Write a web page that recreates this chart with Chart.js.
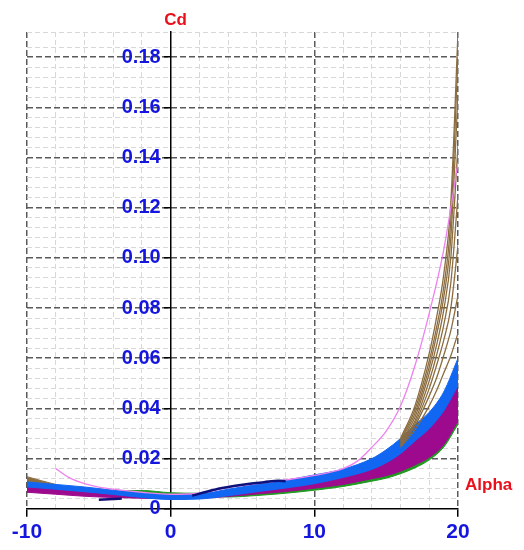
<!DOCTYPE html>
<html>
<head>
<meta charset="utf-8">
<title>Cd - Alpha</title>
<script src="https://cdn.jsdelivr.net/npm/chart.js@4.4.1/dist/chart.umd.min.js"></script>
<style>
  html, body { margin: 0; padding: 0; background: #fff; }
</style>
</head>
<body>
<canvas id="chart" width="524" height="550"></canvas>
<script>
// Etiquetas de los ejes
const X_LABELS = [-10, 0, 10, 20];
const Y_LABELS = [0, 0.02, 0.04, 0.06, 0.08, 0.10, 0.12, 0.14, 0.16, 0.18];

// Malla común de alpha para las bandas
const ALPHA = [-10, -8, -6, -4, -2, 0, 2, 4, 6, 8, 10, 12, 14, 15, 16, 17, 18, 19, 20];
const BLUE_HI  = [0.0107, 0.0097, 0.0087, 0.0074, 0.0063, 0.0057, 0.0059, 0.0078, 0.0097, 0.0114, 0.0135, 0.0158, 0.0200, 0.0235, 0.0280, 0.0335, 0.0385, 0.0465, 0.0600];
const BLUE_LO  = [0.0087, 0.0078, 0.0068, 0.0057, 0.0045, 0.0037, 0.0039, 0.0052, 0.0068, 0.0083, 0.0100, 0.0125, 0.0157, 0.0183, 0.0220, 0.0270, 0.0320, 0.0390, 0.0490];
const MAG_HI   = [0.0095, 0.0085, 0.0075, 0.0065, 0.0056, 0.0050, 0.0053, 0.0063, 0.0076, 0.0090, 0.0106, 0.0128, 0.0160, 0.0185, 0.0220, 0.0272, 0.0325, 0.0395, 0.0500];
const MAG_LO   = [0.0066, 0.0058, 0.0050, 0.0045, 0.0042, 0.0040, 0.0042, 0.0049, 0.0059, 0.0069, 0.0082, 0.0097, 0.0120, 0.0132, 0.0150, 0.0175, 0.0205, 0.0255, 0.0350];
const GREEN_HI = [0.0080, 0.0070, 0.0062, 0.0070, 0.0073, 0.0064, 0.0062, 0.0064, 0.0066, 0.0075, 0.0088, 0.0100, 0.0122, 0.0135, 0.0155, 0.0180, 0.0210, 0.0260, 0.0355];
const GREEN_LO = [0.0070, 0.0062, 0.0055, 0.0055, 0.0060, 0.0052, 0.0050, 0.0047, 0.0053, 0.0062, 0.0074, 0.0089, 0.0110, 0.0122, 0.0140, 0.0163, 0.0195, 0.0245, 0.0337];

// Cuña marrón en el borde izquierdo
const BROWN_L_X  = [-10, -9, -8];
const BROWN_L_HI = [0.0128, 0.0112, 0.0097];
const BROWN_L_LO = [0.0100, 0.0092, 0.0088];

// Curvas marrones que se disparan al final
const BROWN_X = [16, 17, 18, 18.5, 19, 19.5, 20];
const BROWN_1 = [0.0280, 0.0410, 0.0620, 0.0760, 0.0930, 0.1220, 0.1900];
const BROWN_2 = [0.0275, 0.0395, 0.0590, 0.0720, 0.0880, 0.1150, 0.1800];
const BROWN_3 = [0.0270, 0.0380, 0.0565, 0.0690, 0.0840, 0.1080, 0.1650];
const BROWN_4 = [0.0265, 0.0365, 0.0540, 0.0650, 0.0790, 0.1000, 0.1450];
const BROWN_5 = [0.0260, 0.0350, 0.0510, 0.0610, 0.0730, 0.0900, 0.1250];
const BROWN_6 = [0.0255, 0.0340, 0.0480, 0.0570, 0.0670, 0.0800, 0.1050];
const BROWN_7 = [0.0250, 0.0330, 0.0450, 0.0520, 0.0610, 0.0710, 0.0850];
const BROWN_8 = [0.0245, 0.0315, 0.0410, 0.0470, 0.0540, 0.0610, 0.0700];

// Curva rosa
const PINK_X  = [-8, -7, -6, -5, -4, -2, 0, 2, 4, 6, 8, 10, 12, 13, 14, 15, 16, 17, 18, 19, 20];
const PINK_CD = [0.0160, 0.0122, 0.0100, 0.0086, 0.0078, 0.0066, 0.0058, 0.0062, 0.0085, 0.0100, 0.0115, 0.0133, 0.0160, 0.0190, 0.0245, 0.0310, 0.0410, 0.0570, 0.0780, 0.1030, 0.1380];

// Curva azul oscuro (dos tramos)
const NAVY_X  = [-5, -4, -3.4, -3, 1.5, 2.5, 3.5, 4.5, 5.5, 6.5, 7.5, 8];
const NAVY_CD = [0.0036, 0.0039, 0.0041, null, 0.0052, 0.0068, 0.0082, 0.0092, 0.0100, 0.0106, 0.0112, 0.0110];

const FONT = '"Liberation Sans", Arial, sans-serif';
const BLUE = '#1267f2', MAGENTA = '#9e0a8e', GREEN = '#1f9a1f', BROWN = '#8c6d3f', PINK = '#ee82ee', NAVY = '#10107a';

const pts = (xs, ys) => xs.map((x, i) => ({ x, y: ys[i] }));
const isMajorY = v => Math.abs(v * 50 - Math.round(v * 50)) < 1e-6;
const isMajorX = v => Math.abs(v % 10) < 1e-9;

function line(data, color, width) {
  return { data, borderColor: color, borderWidth: width, pointRadius: 0, fill: false, cubicInterpolationMode: 'monotone', spanGaps: false };
}
function bandTop(data, color) {
  return { data, borderColor: color, backgroundColor: color, borderWidth: 1, pointRadius: 0, fill: '+1', cubicInterpolationMode: 'monotone' };
}

// el índice 0 se dibuja arriba
const datasets = [
  line(pts(NAVY_X, NAVY_CD), NAVY, 2.5),
  line(pts(PINK_X, PINK_CD), PINK, 1.3),
  ...[BROWN_1, BROWN_2, BROWN_3, BROWN_4, BROWN_5, BROWN_6, BROWN_7, BROWN_8].map(b => line(pts(BROWN_X, b), BROWN, 1.3)),
  bandTop(pts(ALPHA, BLUE_HI), BLUE),
  line(pts(ALPHA, BLUE_LO), BLUE, 1),
  bandTop(pts(ALPHA, MAG_HI), MAGENTA),
  line(pts(ALPHA, MAG_LO), MAGENTA, 1),
  bandTop(pts(ALPHA, GREEN_HI), GREEN),
  line(pts(ALPHA, GREEN_LO), GREEN, 1),
  bandTop(pts(BROWN_L_X, BROWN_L_HI), BROWN),
  line(pts(BROWN_L_X, BROWN_L_LO), BROWN, 1)
];

// Títulos "Cd" y "Alpha"
const axisTitles = {
  id: 'axisTitles',
  afterDraw(chart) {
    const { ctx, scales: { x, y } } = chart;
    ctx.save();
    ctx.fillStyle = '#e8101c';
    ctx.font = 'bold 17px ' + FONT;
    ctx.textAlign = 'center';
    ctx.fillText('Cd', x.getPixelForValue(0) + 5, 25);
    ctx.textAlign = 'left';
    ctx.fillText('Alpha', x.right + 7, y.getPixelForValue(0.0075));
    ctx.restore();
  }
};

new Chart(document.getElementById('chart'), {
  type: 'line',
  data: { datasets },
  plugins: [axisTitles],
  options: {
    responsive: false,
    animation: false,
    layout: { padding: { left: 27, right: 66, top: 32, bottom: 2 } },
    plugins: { legend: { display: false }, tooltip: { enabled: false } },
    scales: {
      x: {
        type: 'linear', min: -10, max: 20,
        ticks: {
          stepSize: 2, autoSkip: false, maxTicksLimit: 100, maxRotation: 0, padding: 3,
          color: '#1515e0', font: { family: FONT, size: 21, weight: 'bold' },
          callback: v => X_LABELS.includes(v) ? String(v) : ''
        },
        grid: {
          color: c => c.tick && c.tick.value === 0 ? 'rgba(0,0,0,0)' : (c.tick && isMajorX(c.tick.value) ? '#5a5a5a' : '#d8d8d8'),
          lineWidth: c => c.tick && isMajorX(c.tick.value) ? 1.5 : 1,
          tickColor: c => c.tick && isMajorX(c.tick.value) ? '#000' : 'rgba(0,0,0,0)',
          tickLength: 8, tickWidth: 1.5
        },
        border: { color: '#000', width: 1.5, dash: c => c.tick && isMajorX(c.tick.value) ? [6, 3] : [5, 3] }
      },
      y: {
        type: 'linear', min: 0, max: 0.19, position: { x: 0 },
        ticks: {
          stepSize: 0.004, autoSkip: false, maxTicksLimit: 100,
          color: '#1515e0', font: { family: FONT, size: 20, weight: 'bold' },
          // el espacio final separa la etiqueta del eje central
          callback: v => {
            const lab = Y_LABELS.find(t => Math.abs(t - v) < 1e-9);
            if (lab === undefined) return '';
            return (lab === 0 ? '0' : lab.toFixed(2)) + '\u2002';
          }
        },
        grid: {
          color: c => c.tick && c.tick.value === 0 ? 'rgba(0,0,0,0)' : (c.tick && isMajorY(c.tick.value) ? '#5a5a5a' : '#d8d8d8'),
          lineWidth: c => c.tick && isMajorY(c.tick.value) ? 1.5 : 1,
          tickColor: c => c.tick && isMajorY(c.tick.value) ? '#000' : 'rgba(0,0,0,0)',
          tickLength: 6, tickWidth: 1.5
        },
        border: { color: '#000', width: 1.5, dash: c => c.tick && isMajorY(c.tick.value) ? [6, 3] : [5, 3] }
      }
    }
  }
});
</script>
</body>
</html>
